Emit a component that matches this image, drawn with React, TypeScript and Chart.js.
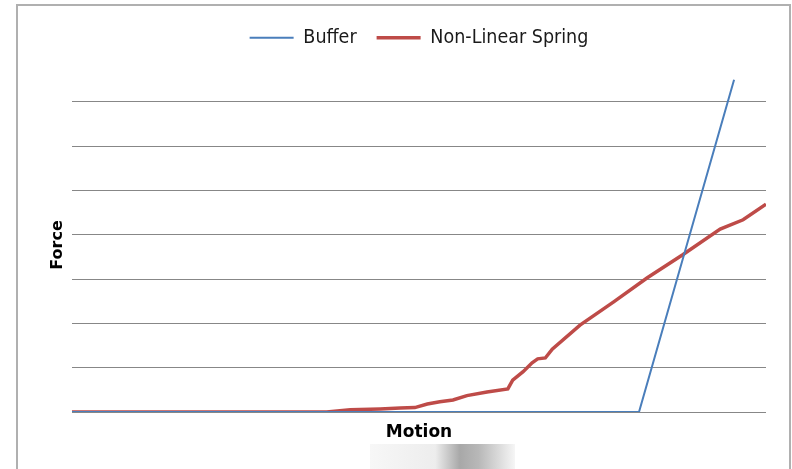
import React, { useEffect, useRef } from "react";
import { Chart, registerables } from "chart.js";

Chart.register(...registerables);

const seriesNames = ["Buffer", "Non-Linear Spring"];
const bufferX = [0, 81.7, 95.4];
const bufferY = [0, 0, 7.5];
const springX = [0, 36.7, 40.1, 44.4, 47.3, 49.4, 51.2, 53.0, 54.9, 56.9, 59.8, 62.8, 63.5, 65.0, 66.3, 67.1, 68.2, 69.2, 73.2, 78.0, 82.9, 88.0, 93.4, 96.7, 100];
const springY = [0, 0, 0.05, 0.07, 0.09, 0.1, 0.18, 0.23, 0.27, 0.37, 0.45, 0.52, 0.72, 0.91, 1.11, 1.2, 1.22, 1.42, 1.96, 2.48, 3.03, 3.55, 4.13, 4.34, 4.69];
const xTitle = "Motion";
const yTitle = "Force";

const legendMargin = {
  id: "legendMargin",
  beforeInit(chart: any) {
    const orig = chart.legend.fit;
    chart.legend.fit = function () {
      orig.call(this);
      this.height = 78 - 8;
    };
  },
};

export default function App() {
  const ref = useRef<HTMLCanvasElement>(null);
  useEffect(() => {
    const ctx = ref.current!;
    const chart = new Chart(ctx, {
      type: "line",
      data: {
        datasets: [
          {
            label: seriesNames[0],
            data: bufferX.map((x, i) => ({ x, y: bufferY[i] })),
            borderColor: "#4a7ebb",
            backgroundColor: "#4a7ebb",
            borderWidth: 2,
            pointRadius: 0,
            tension: 0,
            pointStyle: "line",
          },
          {
            label: seriesNames[1],
            data: springX.map((x, i) => ({ x, y: springY[i] })),
            borderColor: "#be4b48",
            backgroundColor: "#be4b48",
            borderWidth: 3.5,
            pointRadius: 0,
            tension: 0,
            pointStyle: "line",
          },
        ],
      },
      options: {
        animation: false,
        responsive: false,
        devicePixelRatio: 1,
        layout: { padding: { left: 0, right: 26, top: 8, bottom: 0 } },
        plugins: {
          legend: {
            position: "top",
            fullSize: false,
            labels: {
              usePointStyle: true,
              pointStyleWidth: 44,
              padding: 20,
              color: "#1a1a1a",
              font: { family: '"Liberation Sans Narrow", "DejaVu Sans Condensed", "Open Sans", sans-serif', size: 19.5 },
            },
          },
          tooltip: { enabled: false },
        },
        scales: {
          x: {
            type: "linear",
            min: 0,
            max: 100,
            grid: { display: false },
            border: { display: false },
            ticks: { display: false },
            title: {
              display: true,
              text: xTitle,
              color: "#000",
              font: { family: '"DejaVu Sans", sans-serif', size: 17, weight: "bold" },
              padding: { top: 0, bottom: 26 },
            },
            afterFit(scale: any) {
              scale.height = 57;
            },
          },
          y: {
            min: 0,
            max: 7.54,
            ticks: { display: false, stepSize: 1, includeBounds: false },
            grid: { color: "#878787", lineWidth: 1, drawTicks: false },
            border: { display: false },
            title: {
              display: true,
              text: yTitle,
              color: "#000",
              font: { family: '"DejaVu Sans", sans-serif', size: 16, weight: "bold" },
              padding: { top: 48, bottom: 0 },
            },
            afterFit(scale: any) {
              scale.width = 72;
            },
          },
        },
      },
      plugins: [legendMargin],
    } as any);
    return () => chart.destroy();
  }, []);

  return (
    <div style={{ position: "absolute", left: 0, top: 0, width: 792, height: 469, background: "#fff", overflow: "hidden" }}>
      <div
        style={{
          position: "absolute",
          left: 16,
          top: 4,
          width: 775,
          height: 480,
          border: "2px solid #b0b0b0",
          boxSizing: "border-box",
        }}
      />
      <div
        style={{
          position: "absolute",
          left: 370,
          top: 444,
          width: 145,
          height: 25,
          background: "linear-gradient(to right, #f7f7f7 0%, #ededed 45%, #a8a8a8 62%, #b8b8b8 75%, #f6f6f6 100%)",
        }}
      />
      <canvas ref={ref} width={792} height={469} style={{ position: "absolute", left: 0, top: 0, width: 792, height: 469 }} />
    </div>
  );
}
